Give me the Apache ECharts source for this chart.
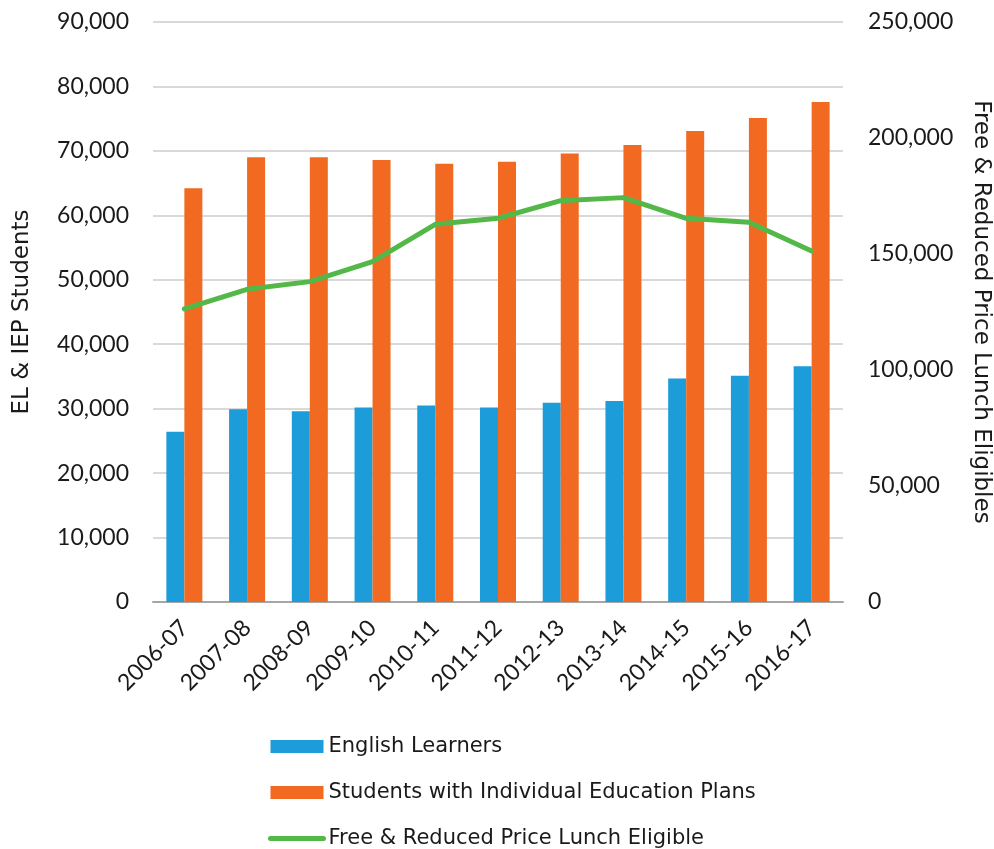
<!DOCTYPE html>
<html>
<head>
<meta charset="utf-8">
<script src="https://cdn.jsdelivr.net/npm/echarts@6/dist/echarts.min.js"></script>
<style>
  html, body { margin: 0; padding: 0; background: #fff; }
  #chart { width: 994px; height: 849px; }
</style>
</head>
<body>
<div id="chart"></div>
<script>
// School years on the category axis
const years = ['2006-07', '2007-08', '2008-09', '2009-10', '2010-11', '2011-12',
               '2012-13', '2013-14', '2014-15', '2015-16', '2016-17'];

// Student counts (left axis)
const englishLearners = [26400, 29900, 29600, 30200, 30500, 30200, 30900, 31200, 34700, 35100, 36600];
const iepStudents     = [64200, 69000, 69000, 68600, 68000, 68300, 69600, 70900, 73100, 75100, 77600];

// Free & reduced price lunch eligibles (right axis)
const lunchEligible   = [126300, 134800, 138100, 146700, 162800, 165400, 173000, 174300, 165400, 163700, 151300];

// Axis ranges
const leftAxis  = { min: 0, max: 90000,  interval: 10000 };
const rightAxis = { min: 0, max: 250000, interval: 50000 };

const fmt = v => v.toLocaleString('en-US');
const numFont = 'Lato';
const textFont = 'DejaVu Sans';
const textColor = '#1a1a1a';
const green = '#53b848';

const chart = echarts.init(document.getElementById('chart'), null, { renderer: 'canvas' });

chart.setOption({
  animation: false,
  backgroundColor: '#ffffff',
  grid: { left: 153, right: 151, top: 22, bottom: 247, outerBoundsMode: 'none', containLabel: false },
  legend: {
    orient: 'vertical',
    left: 268,
    top: 736,
    height: 160,
    padding: 0,
    itemWidth: 53,
    itemHeight: 13,
    itemGap: 25,
    textStyle: { fontFamily: textFont, fontSize: 21, color: textColor },
    data: [
      { name: 'English Learners', icon: 'rect' },
      { name: 'Students with Individual Education Plans', icon: 'rect' },
      {
        name: 'Free & Reduced Price Lunch Eligible',
        lineStyle: { color: green, width: 5, cap: 'round' },
        itemStyle: { color: 'rgba(0,0,0,0)', borderWidth: 0, opacity: 0 }
      }
    ]
  },
  xAxis: {
    type: 'category',
    data: years,
    axisLine: { lineStyle: { color: '#a6a6a6', width: 2 } },
    axisTick: { show: false },
    axisLabel: {
      rotate: 45, margin: 22, interval: 0,
      fontFamily: numFont, fontSize: 23, color: textColor
    }
  },
  yAxis: [
    {
      type: 'value',
      min: leftAxis.min, max: leftAxis.max, interval: leftAxis.interval,
      name: 'EL & IEP Students',
      nameLocation: 'middle',
      nameRotate: 90,
      nameGap: 119,
      nameTextStyle: { fontFamily: textFont, fontSize: 23, color: textColor },
      axisLine: { show: false },
      axisTick: { show: false },
      splitLine: { lineStyle: { color: '#d9d9d9', width: 2 } },
      axisLabel: { formatter: fmt, margin: 24, fontFamily: numFont, fontSize: 23, color: textColor }
    },
    {
      type: 'value',
      position: 'right',
      min: rightAxis.min, max: rightAxis.max, interval: rightAxis.interval,
      name: 'Free & Reduced Price Lunch Eligibles',
      nameLocation: 'middle',
      nameRotate: -90,
      nameGap: 126,
      nameTextStyle: { fontFamily: textFont, fontSize: 23, color: textColor },
      axisLine: { show: false },
      axisTick: { show: false },
      splitLine: { show: false },
      axisLabel: { formatter: fmt, margin: 25, fontFamily: numFont, fontSize: 23, color: textColor }
    }
  ],
  series: [
    {
      name: 'English Learners',
      type: 'bar',
      yAxisIndex: 0,
      data: englishLearners,
      barWidth: 18,
      barGap: '0%',
      itemStyle: { color: '#1c9cd8' }
    },
    {
      name: 'Students with Individual Education Plans',
      type: 'bar',
      yAxisIndex: 0,
      data: iepStudents,
      barWidth: 18,
      barGap: '0%',
      itemStyle: { color: '#f26a22' }
    },
    {
      name: 'Free & Reduced Price Lunch Eligible',
      type: 'line',
      yAxisIndex: 1,
      data: lunchEligible,
      symbol: 'none',
      showSymbol: false,
      lineStyle: { color: green, width: 5, cap: 'round', join: 'round' },
      itemStyle: { color: green }
    }
  ]
});
</script>
</body>
</html>
